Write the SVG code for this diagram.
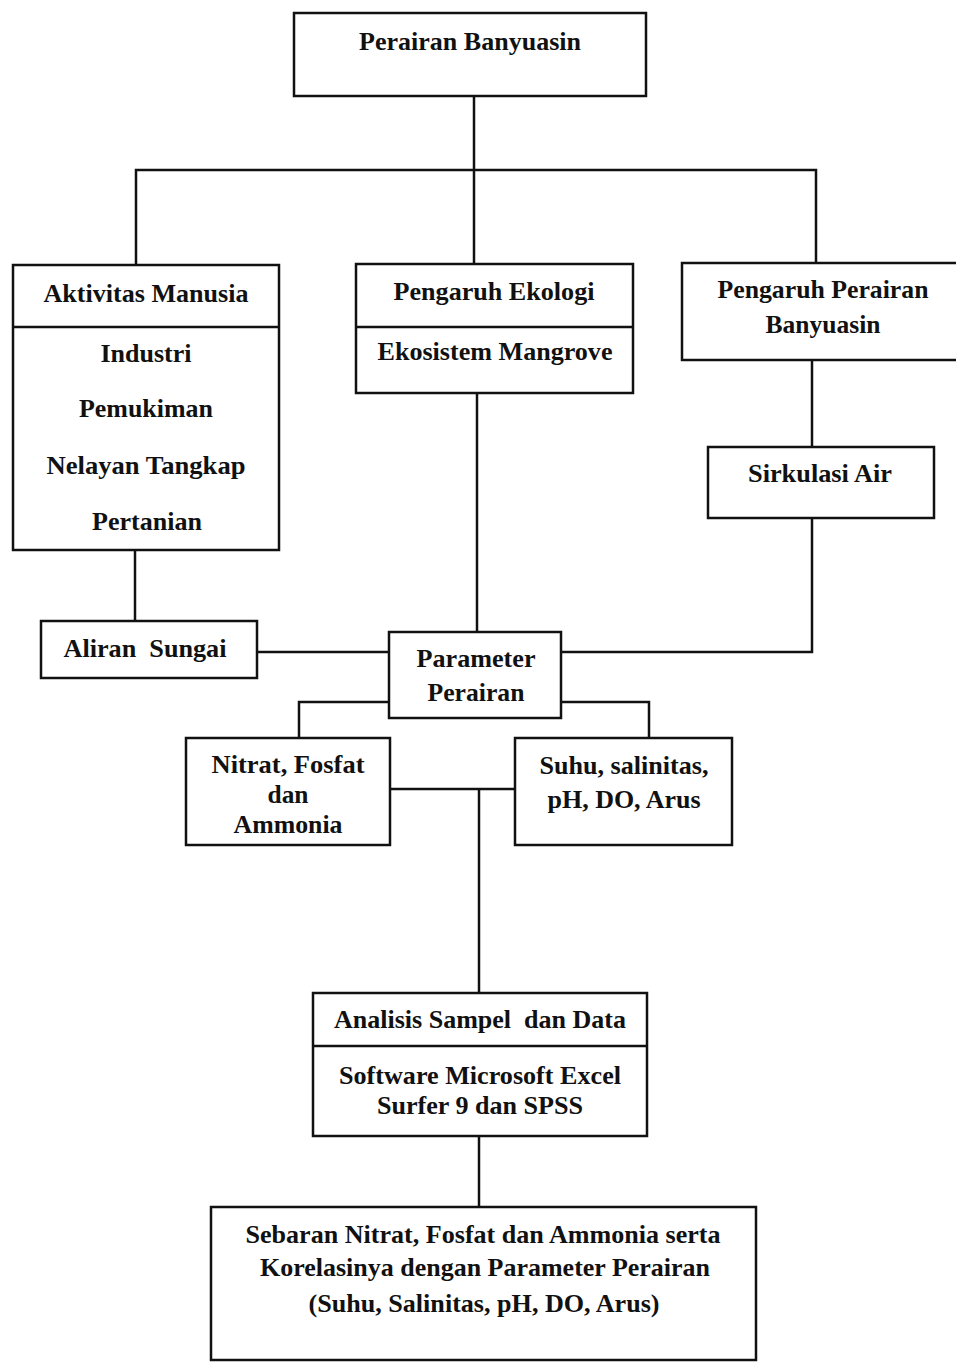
<svg xmlns="http://www.w3.org/2000/svg" width="956" height="1362" viewBox="0 0 956 1362">
<style>
.box{fill:#fff;stroke:#111;stroke-width:2.5}
.ln{fill:none;stroke:#111;stroke-width:2.5}
text{font-family:"Liberation Serif","Times New Roman",serif;font-weight:bold;font-size:25px;fill:#111;text-anchor:middle}
</style>
<rect width="956" height="1362" fill="#fff"/>
<g id="connectors">
<polyline class="ln" points="474,96 474,263"/>
<polyline class="ln" points="136,265 136,170 816,170 816,262"/>
<polyline class="ln" points="135,550 135,621"/>
<polyline class="ln" points="477,393 477,632"/>
<polyline class="ln" points="812,360 812,447"/>
<polyline class="ln" points="812,518 812,652 561,652"/>
<polyline class="ln" points="257,652 389,652"/>
<polyline class="ln" points="389,702 299,702 299,738"/>
<polyline class="ln" points="561,702 649,702 649,738"/>
<polyline class="ln" points="390,789 515,789"/>
<polyline class="ln" points="479,789 479,993"/>
<polyline class="ln" points="479,1136 479,1207"/>
</g>
<g id="n-top">
<rect class="box" x="294" y="13" width="352" height="83"/>
<text x="470" y="50" textLength="222" lengthAdjust="spacingAndGlyphs">Perairan Banyuasin</text>
</g>
<g id="n-aktivitas">
<rect class="box" x="13" y="265" width="266" height="285"/>
<line class="ln" x1="13" y1="327" x2="279" y2="327"/>
<text x="146" y="302" textLength="205" lengthAdjust="spacingAndGlyphs">Aktivitas Manusia</text>
<text x="146" y="362" textLength="91" lengthAdjust="spacingAndGlyphs">Industri</text>
<text x="146" y="417" textLength="134" lengthAdjust="spacingAndGlyphs">Pemukiman</text>
<text x="146" y="474" textLength="199" lengthAdjust="spacingAndGlyphs">Nelayan Tangkap</text>
<text x="147" y="530" textLength="110" lengthAdjust="spacingAndGlyphs">Pertanian</text>
</g>
<g id="n-ekologi">
<rect class="box" x="356" y="264" width="277" height="129"/>
<line class="ln" x1="356" y1="327" x2="633" y2="327"/>
<text x="494" y="300" textLength="201" lengthAdjust="spacingAndGlyphs">Pengaruh Ekologi</text>
<text x="495" y="360" textLength="235" lengthAdjust="spacingAndGlyphs">Ekosistem Mangrove</text>
</g>
<g id="n-perairan">
<rect class="box" x="682" y="263" width="290" height="97"/>
<text x="823" y="298" textLength="211" lengthAdjust="spacingAndGlyphs">Pengaruh Perairan</text>
<text x="823" y="333" textLength="115" lengthAdjust="spacingAndGlyphs">Banyuasin</text>
</g>
<g id="n-sirkulasi">
<rect class="box" x="708" y="447" width="226" height="71"/>
<text x="820" y="482" textLength="144" lengthAdjust="spacingAndGlyphs">Sirkulasi Air</text>
</g>
<g id="n-aliran">
<rect class="box" x="41" y="621" width="216" height="57"/>
<text x="145" y="657" textLength="163" lengthAdjust="spacingAndGlyphs" xml:space="preserve">Aliran  Sungai</text>
</g>
<g id="n-parameter">
<rect class="box" x="389" y="632" width="172" height="86"/>
<text x="476" y="667" textLength="119" lengthAdjust="spacingAndGlyphs">Parameter</text>
<text x="476" y="701" textLength="97" lengthAdjust="spacingAndGlyphs">Perairan</text>
</g>
<g id="n-nitrat">
<rect class="box" x="186" y="738" width="204" height="107"/>
<text x="288" y="773" textLength="153" lengthAdjust="spacingAndGlyphs">Nitrat, Fosfat</text>
<text x="288" y="803" textLength="41" lengthAdjust="spacingAndGlyphs">dan</text>
<text x="288" y="833" textLength="109" lengthAdjust="spacingAndGlyphs">Ammonia</text>
</g>
<g id="n-suhu">
<rect class="box" x="515" y="738" width="217" height="107"/>
<text x="624" y="774" textLength="169" lengthAdjust="spacingAndGlyphs">Suhu, salinitas,</text>
<text x="624" y="808" textLength="153" lengthAdjust="spacingAndGlyphs">pH, DO, Arus</text>
</g>
<g id="n-analisis">
<rect class="box" x="313" y="993" width="334" height="143"/>
<line class="ln" x1="313" y1="1046" x2="647" y2="1046"/>
<text x="480" y="1028" textLength="292" lengthAdjust="spacingAndGlyphs" xml:space="preserve">Analisis Sampel  dan Data</text>
<text x="480" y="1084" textLength="282" lengthAdjust="spacingAndGlyphs">Software Microsoft Excel</text>
<text x="480" y="1114" textLength="206" lengthAdjust="spacingAndGlyphs">Surfer 9 dan SPSS</text>
</g>
<g id="n-sebaran">
<rect class="box" x="211" y="1207" width="545" height="153"/>
<text x="483" y="1243" textLength="475" lengthAdjust="spacingAndGlyphs">Sebaran Nitrat, Fosfat dan Ammonia serta</text>
<text x="485" y="1276" textLength="450" lengthAdjust="spacingAndGlyphs">Korelasinya dengan Parameter Perairan</text>
<text x="484" y="1312" textLength="351" lengthAdjust="spacingAndGlyphs">(Suhu, Salinitas, pH, DO, Arus)</text>
</g>
</svg>
